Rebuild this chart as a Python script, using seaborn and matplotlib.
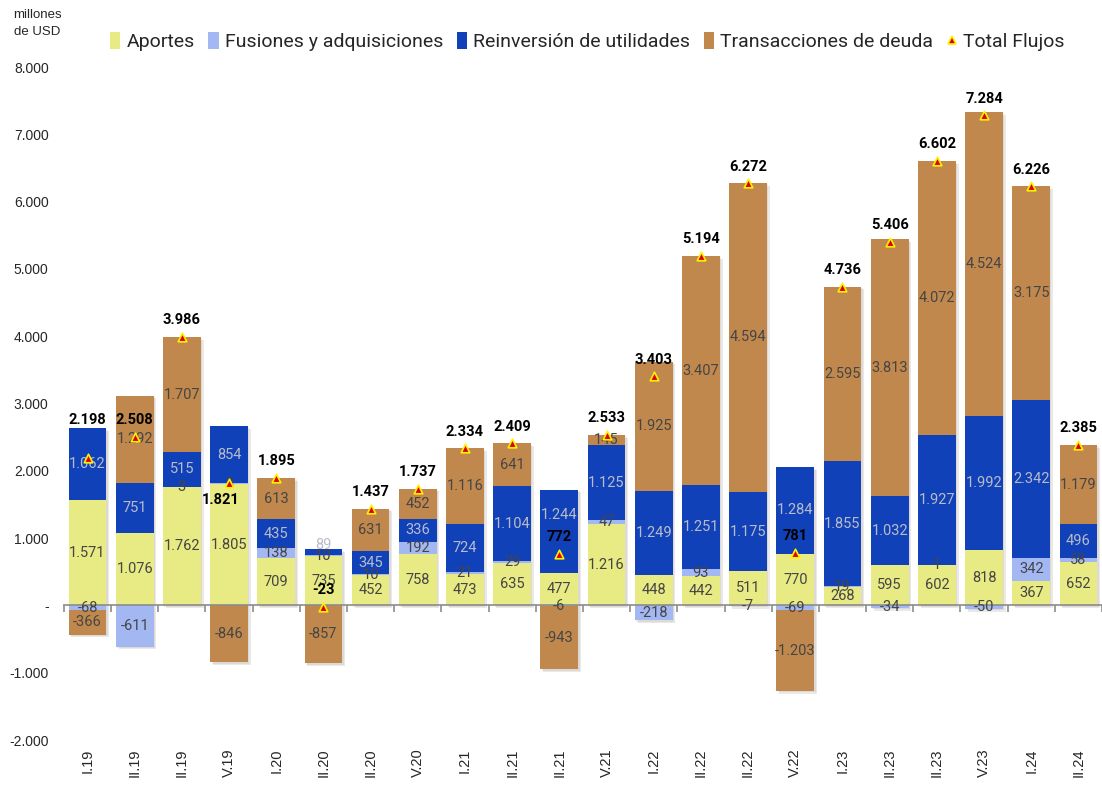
import numpy as np
import seaborn as sns
import matplotlib.pyplot as plt
from matplotlib.patches import Patch
from matplotlib.lines import Line2D
import matplotlib.patheffects as pe

# quarters as printed on the chart (labels are clipped in the original)
quarters = ["I.19", "II.19", "II.19", "V.19", "I.20", "II.20", "II.20", "V.20",
            "I.21", "II.21", "II.21", "V.21", "I.22", "II.22", "II.22", "V.22",
            "I.23", "II.23", "II.23", "V.23", "I.24", "II.24"]
aportes = [1571, 1076, 1762, 1805, 709, 735, 452, 758, 473, 635, 477, 1216,
           448, 442, 511, 770, 268, 595, 602, 818, 367, 652]
fusiones = [-68, -611, 3, 8, 138, 10, 10, 192, 21, 29, -6, 47,
            -218, 93, -7, -69, 19, -34, 1, -50, 342, 58]
reinversion = [1062, 751, 515, 854, 435, 89, 345, 336, 724, 1104, 1244, 1125,
               1249, 1251, 1175, 1284, 1855, 1032, 1927, 1992, 2342, 496]
deuda = [-366, 1292, 1707, -846, 613, -857, 631, 452, 1116, 641, -943, 145,
         1925, 3407, 4594, -1203, 2595, 3813, 4072, 4524, 3175, 1179]
totales = [2198, 2508, 3986, 1821, 1895, -23, 1437, 1737, 2334, 2409, 772, 2533,
           3403, 5194, 6272, 781, 4736, 5406, 6602, 7284, 6226, 2385]

names = ["Aportes", "Fusiones y adquisiciones", "Reinversión de utilidades",
         "Transacciones de deuda"]
colors = ["#E8EA84", "#A3B8F2", "#1141B8", "#C1884D"]
label_colors = ["#454545", "#454545", "#B8BCC8", "#454545"]


def fmt(v):
    return f"{v:,}".replace(",", ".")


sns.set_style("white")
plt.rcParams["font.family"] = ["Roboto", "DejaVu Sans"]

fig = plt.figure(figsize=(11.02, 7.89), dpi=100)
ax = fig.add_axes([0.058, 0.062, 0.942, 0.853])

vals = np.array([aportes, fusiones, reinversion, deuda], dtype=float)
pos = np.clip(vals, 0, None).cumsum(axis=0)
neg = np.clip(vals, None, 0).cumsum(axis=0)
x = np.arange(len(quarters))

# stacked bars: draw cumulative sums from the outermost layer inwards
for k in range(3, -1, -1):
    for stack in (pos, neg):
        kw = {}
        if k == 3:
            kw["path_effects"] = [pe.SimplePatchShadow(offset=(2, -2), alpha=0.1),
                                  pe.SimplePatchShadow(offset=(1, -1), alpha=0.08),
                                  pe.Normal()]
        sns.barplot(x=x, y=stack[k], color=colors[k], saturation=1, width=0.8,
                    errorbar=None, linewidth=0, ax=ax, zorder=2, **kw)

# segment labels (a few nudged so they don't sit on the total label)
nudge = {(2, 10): 12}
for k in range(4):
    for i in range(len(quarters)):
        v = vals[k, i]
        if v == 0:
            continue
        if v > 0:
            base = pos[k - 1, i] if k > 0 else 0
        else:
            base = neg[k - 1, i] if k > 0 else 0
        if k == 2 and abs(v) < 120:
            # thin blue slice: label sits just above it
            ax.annotate(fmt(int(v)), (i, base + v), xytext=(0, -2),
                        textcoords="offset points", ha="center", va="bottom",
                        fontsize=10.5, color=label_colors[k], zorder=4)
            continue
        ax.annotate(fmt(int(v)), (i, base + v / 2), xytext=(0, nudge.get((k, i), 0)),
                    textcoords="offset points", ha="center", va="center",
                    fontsize=10.5, color=label_colors[k], zorder=4)

# total markers
sns.scatterplot(x=x, y=totales, marker="^", s=38, color="#E00000",
                edgecolor="#FFF200", linewidth=1.2, ax=ax, zorder=5, legend=False)

for i, t in enumerate(totales):
    xy = (i, t)
    off = (0, 7)
    va = "bottom"
    if i == 0:
        xy = (i, pos[3, i])
        off = (0, 1)
    elif i == 3:
        off = (-6, -12)
        va = "center"
    ax.annotate(fmt(t), xy, xytext=off, textcoords="offset points",
                ha="center", va=va, fontsize=10.5, fontweight="bold",
                color="black", zorder=6)

# axes styling
ax.set_xlim(-0.5, len(quarters) - 0.5)
ymin, ymax = -2000, 8000
ax.set_ylim(ymin, ymax)
yt = np.arange(ymin, ymax + 1, 1000)
ax.set_yticks(yt)
ax.set_yticklabels(["-" if v == 0 else fmt(int(v)) for v in yt],
                   fontsize=10, family="Liberation Sans")
ax.set_xticks(x)
ax.set_xticklabels(quarters, rotation=90, fontsize=10.5, family="Liberation Sans")
ax.tick_params(axis="y", length=0, pad=11)
ax.tick_params(axis="x", length=0, pad=6)
ax.set_xlabel("")
ax.set_ylabel("")
for s in ax.spines.values():
    s.set_visible(False)

# zero line with category boundary ticks
sec = ax.secondary_xaxis((0 - ymin) / (ymax - ymin))
sec.set_xticks(np.arange(-0.5, len(quarters), 1))
sec.set_xticklabels([])
sec.tick_params(axis="x", length=5, color="#8C8C8C", width=1.2)
sec.spines["bottom"].set_color("#8C8C8C")
sec.spines["bottom"].set_linewidth(1.2)
sec.set_zorder(3)

handles = [Patch(facecolor=c, edgecolor="none") for c in colors]
handles.append(Line2D([], [], marker="^", linestyle="none", markersize=6,
                      markerfacecolor="#E00000", markeredgecolor="#FFF200",
                      markeredgewidth=1.2))
fig.legend(handles, names + ["Total Flujos"], loc="center",
           bbox_to_anchor=(0.533, 0.947), ncol=5, frameon=False, fontsize=14,
           handlelength=0.55, handleheight=0.9, handletextpad=0.3,
           columnspacing=0.7)

fig.text(0.034, 0.97, "millones\nde USD", ha="center", va="center",
         fontsize=9.5, linespacing=1.5, family="Liberation Sans")

fig.savefig("out.png", dpi=100)
